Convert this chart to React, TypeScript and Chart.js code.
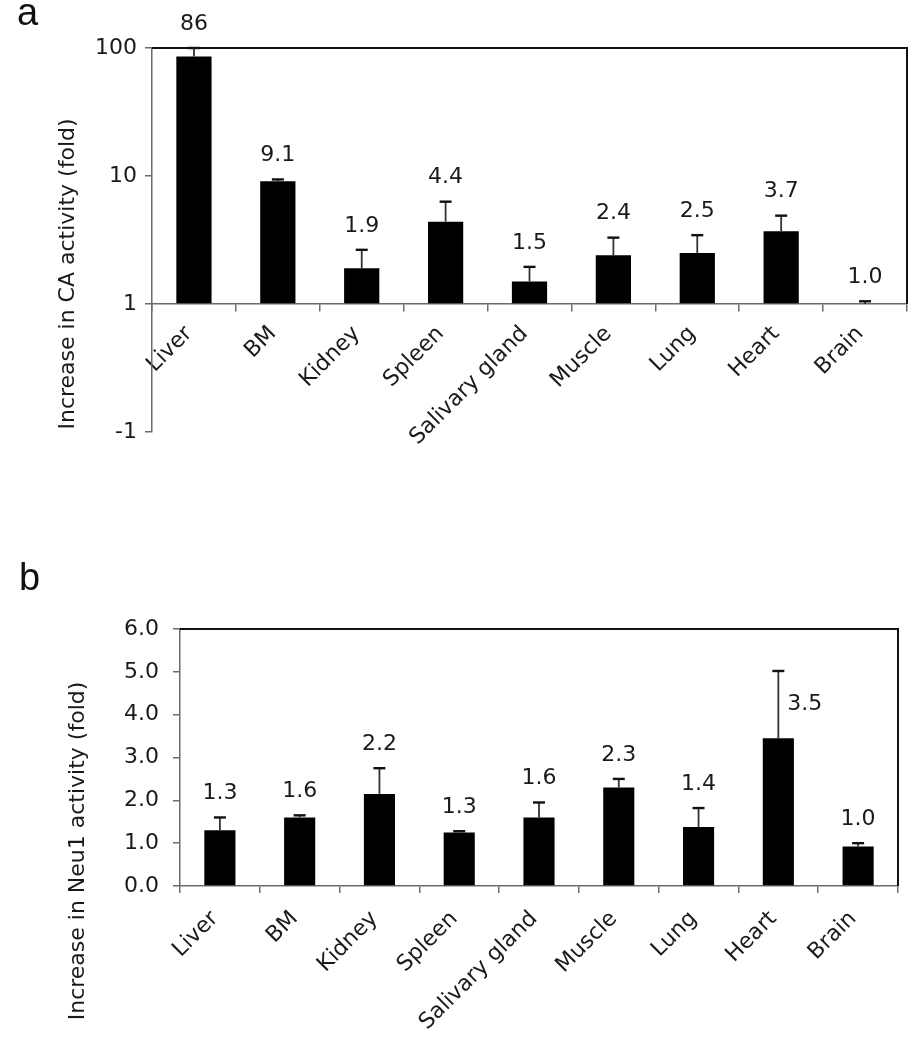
import React, { useEffect, useRef } from "react";
import { Chart, registerables } from "chart.js";

Chart.register(...registerables);

// ---------- data ----------
const categories = ["Liver", "BM", "Kidney", "Spleen", "Salivary gland", "Muscle", "Lung", "Heart", "Brain"];

// panel a: CA activity (log scale)
const caValues = [86, 9.1, 1.9, 4.4, 1.5, 2.4, 2.5, 3.7, 1.0];
const caErrors = [14, 0.3, 0.75, 1.9, 0.45, 0.9, 0.95, 1.2, 0.05];
const caLabels = ["86", "9.1", "1.9", "4.4", "1.5", "2.4", "2.5", "3.7", "1.0"];
const caTickValues = [0.1, 1, 10, 100];
const caTickLabels = ["-1", "1", "10", "100"];

// panel b: Neu1 activity (linear scale)
const neuValues = [1.3, 1.6, 2.15, 1.25, 1.6, 2.3, 1.38, 3.45, 0.92];
const neuErrors = [0.3, 0.05, 0.6, 0.03, 0.35, 0.2, 0.44, 1.57, 0.08];
const neuLabels = ["1.3", "1.6", "2.2", "1.3", "1.6", "2.3", "1.4", "3.5", "1.0"];
const neuTickValues = [0, 1, 2, 3, 4, 5, 6];

const FONT = "'DejaVu Sans', 'Open Sans', sans-serif";
const TEXT = "#1a1a1a";
const AXIS = "#6b6b6b";

// ---------- plugins ----------
const errorBarPlugin = {
  id: "errorBars",
  afterDatasetsDraw(chart: any, _args: any, opts: any) {
    const { ctx } = chart;
    const meta = chart.getDatasetMeta(0);
    const yScale = chart.scales.y;
    const data = chart.data.datasets[0].data as number[];
    ctx.save();
    meta.data.forEach((bar: any, i: number) => {
      const v = data[i];
      const barTop = yScale.getPixelForValue(v);
      const top = yScale.getPixelForValue(v + opts.errors[i]);
      ctx.strokeStyle = "#333";
      ctx.lineWidth = 1.8;
      ctx.beginPath();
      ctx.moveTo(bar.x, barTop);
      ctx.lineTo(bar.x, top);
      ctx.stroke();
      ctx.strokeStyle = "#111";
      ctx.lineWidth = 2.4;
      ctx.beginPath();
      ctx.moveTo(bar.x - 6, top);
      ctx.lineTo(bar.x + 6, top);
      ctx.stroke();
      ctx.fillStyle = TEXT;
      ctx.font = `22px ${FONT}`;
      ctx.textBaseline = "middle";
      if (barTop - top > 50) {
        ctx.textAlign = "left";
        ctx.fillText(opts.labels[i], bar.x + 9, (barTop + top) / 2);
      } else {
        ctx.textAlign = "center";
        ctx.fillText(opts.labels[i], bar.x, top - 24);
      }
    });
    ctx.restore();
  },
};

const framePlugin = {
  id: "frame",
  afterDraw(chart: any, _args: any, opts: any) {
    const { ctx, chartArea } = chart;
    const yScale = chart.scales.y;
    const bottom = yScale.getPixelForValue(opts.baseValue);
    ctx.save();
    ctx.strokeStyle = "#111";
    ctx.lineWidth = 2;
    ctx.beginPath();
    ctx.moveTo(chartArea.left, chartArea.top);
    ctx.lineTo(chartArea.right, chartArea.top);
    ctx.lineTo(chartArea.right, bottom);
    ctx.stroke();
    // axis title
    ctx.fillStyle = TEXT;
    ctx.font = `22px ${FONT}`;
    ctx.textAlign = "center";
    ctx.textBaseline = "middle";
    ctx.translate(opts.titleX, opts.titleY);
    ctx.rotate(-Math.PI / 2);
    ctx.fillText(opts.title, 0, 0);
    ctx.restore();
    // panel letter
    ctx.save();
    ctx.fillStyle = "#111";
    ctx.font = `38px 'Liberation Sans', Arial, sans-serif`;
    ctx.textAlign = "left";
    ctx.textBaseline = "alphabetic";
    ctx.fillText(opts.letter, opts.letterX, opts.letterY);
    ctx.restore();
  },
};

function tickFont() {
  return { family: FONT, size: 22 };
}

// ---------- components ----------
function PanelA() {
  const ref = useRef<HTMLCanvasElement | null>(null);
  useEffect(() => {
    if (!ref.current) return;
    const chart = new Chart(ref.current, {
      type: "bar",
      data: {
        labels: categories,
        datasets: [
          {
            data: caValues,
            base: 1,
            backgroundColor: "#000",
            borderWidth: 0,
            barPercentage: 0.42,
            categoryPercentage: 1,
          } as any,
        ],
      },
      options: {
        animation: false,
        responsive: false,
        maintainAspectRatio: false,
        layout: { padding: { top: 48, right: 9, bottom: 68, left: 0 } },
        plugins: {
          legend: { display: false },
          tooltip: { enabled: false },
          errorBars: { errors: caErrors, labels: caLabels },
          frame: {
            baseValue: 1,
            title: "Increase in CA activity (fold)",
            titleX: 68,
            titleY: 274,
            letter: "a",
            letterX: 17,
            letterY: 25,
          },
        } as any,
        scales: {
          x: {
            position: { y: 1 } as any,
            grid: { offset: true, drawOnChartArea: false, drawTicks: true, tickLength: 7, color: AXIS, lineWidth: 1.5 },
            border: { display: true, color: AXIS, width: 1.5 },
            ticks: { color: TEXT, font: tickFont(), minRotation: 45, maxRotation: 45, padding: 10, labelOffset: -5, autoSkip: false },
          },
          y: {
            type: "logarithmic",
            min: 0.1,
            max: 100,
            afterBuildTicks: (scale: any) => {
              scale.ticks = caTickValues.map((v) => ({ value: v }));
            },
            afterFit: (scale: any) => {
              scale.width = 152;
            },
            grid: { drawOnChartArea: false, drawTicks: true, tickLength: 7, color: AXIS, lineWidth: 1.5 },
            border: { display: true, color: AXIS, width: 1.5 },
            ticks: {
              color: TEXT,
              font: tickFont(),
              padding: 8,
              autoSkip: false,
              callback: (value: any) => {
                const idx = caTickValues.findIndex((t) => Math.abs(t - Number(value)) < 1e-9);
                return idx >= 0 ? caTickLabels[idx] : "";
              },
            },
          },
        },
      },
      plugins: [errorBarPlugin, framePlugin],
    });
    return () => chart.destroy();
  }, []);
  return <canvas ref={ref} width={916} height={500} style={{ position: "absolute", left: 0, top: 0 }} />;
}

function PanelB() {
  const ref = useRef<HTMLCanvasElement | null>(null);
  useEffect(() => {
    if (!ref.current) return;
    const chart = new Chart(ref.current, {
      type: "bar",
      data: {
        labels: categories,
        datasets: [
          {
            data: neuValues,
            backgroundColor: "#000",
            borderWidth: 0,
            barPercentage: 0.39,
            categoryPercentage: 1,
          } as any,
        ],
      },
      options: {
        animation: false,
        responsive: false,
        maintainAspectRatio: false,
        layout: { padding: { top: 129, right: 18, bottom: 0, left: 0 } },
        plugins: {
          legend: { display: false },
          tooltip: { enabled: false },
          errorBars: { errors: neuErrors, labels: neuLabels },
          frame: {
            baseValue: 0,
            title: "Increase in Neu1 activity (fold)",
            titleX: 78,
            titleY: 351,
            letter: "b",
            letterX: 19,
            letterY: 90,
          },
        } as any,
        scales: {
          x: {
            afterFit: (scale: any) => {
              scale.height = 164;
            },
            grid: { offset: true, drawOnChartArea: false, drawTicks: true, tickLength: 7, color: AXIS, lineWidth: 1.5 },
            border: { display: true, color: AXIS, width: 1.5 },
            ticks: { color: TEXT, font: tickFont(), minRotation: 45, maxRotation: 45, padding: 13, labelOffset: -5, autoSkip: false },
          },
          y: {
            min: 0,
            max: 6,
            afterBuildTicks: (scale: any) => {
              scale.ticks = neuTickValues.map((v) => ({ value: v }));
            },
            afterFit: (scale: any) => {
              scale.width = 180;
            },
            grid: { drawOnChartArea: false, drawTicks: true, tickLength: 7, color: AXIS, lineWidth: 1.5 },
            border: { display: true, color: AXIS, width: 1.5 },
            ticks: {
              color: TEXT,
              font: tickFont(),
              padding: 14,
              autoSkip: false,
              callback: (value: any) => Number(value).toFixed(1),
            },
          },
        },
      },
      plugins: [errorBarPlugin, framePlugin],
    });
    return () => chart.destroy();
  }, []);
  return <canvas ref={ref} width={916} height={550} style={{ position: "absolute", left: 0, top: 500 }} />;
}

export default function App() {
  return (
    <div style={{ position: "absolute", left: 0, top: 0, width: 916, height: 1050, background: "#fff" }}>
      <PanelA />
      <PanelB />
    </div>
  );
}
